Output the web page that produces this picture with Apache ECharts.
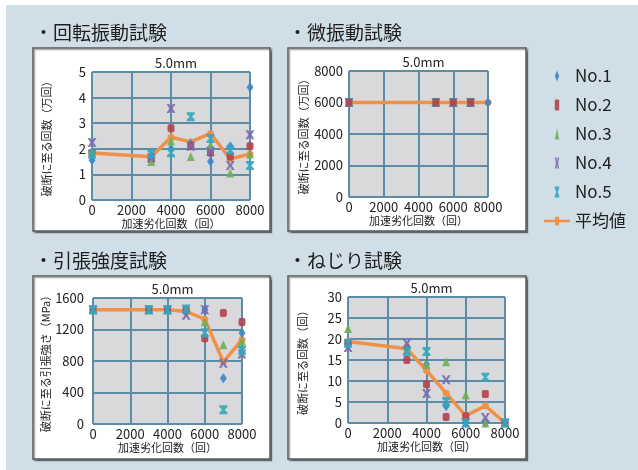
<!DOCTYPE html>
<html>
<head>
<meta charset="utf-8">
<script src="https://cdn.jsdelivr.net/npm/echarts@6/dist/echarts.min.js"></script>
<style>
  html, body { margin: 0; padding: 0; background: #ffffff; }
  #chart { width: 638px; height: 470px; }
</style>
</head>
<body>
<div id="chart"></div>
<script>
// 加速劣化回数（回）
const cycles = [0, 3000, 4000, 5000, 6000, 7000, 8000];
const cyclesMicro = [0, 5000, 6000, 7000, 8000];

// 回転振動試験：破断に至る回数（万回）
const rotNo1 = [1.55, 1.7, 2.0, 2.2, 1.5, 2.1, 4.4];
const rotNo2 = [1.85, 1.6, 2.8, 2.1, 1.85, 1.7, 2.1];
const rotNo3 = [1.9, 1.5, 2.3, 1.7, 2.15, 1.05, 1.8];
const rotNo4 = [2.25, 1.65, 3.57, 2.1, 1.9, 1.35, 2.55];
const rotNo5 = [1.8, 1.8, 1.85, 3.25, 2.4, 1.95, 1.35];
const rotAvg = [1.84, 1.69, 2.45, 2.27, 2.6, 1.6, 1.8];

// 微振動試験：破断に至る回数（万回）
const micNo1 = [6000, 6000, 6000, 6000, 6000];
const micNo2 = [6000, 6000, 6000, 6000, null];
const micNo3 = [6000, 6000, 6000, 6000, null];
const micNo4 = [6000, 6000, 6000, 6000, null];
const micNo5 = [6000, 6000, 6000, 6000, null];
const micAvg = [6000, 6000, 6000, 6000, 6000];

// 引張強度試験：破断に至る引張強さ（MPa）
const tenNo1 = [1450, 1450, 1450, 1440, 1450, 580, 1155];
const tenNo2 = [1450, 1450, 1450, 1450, 1090, 1410, 1295];
const tenNo3 = [1450, 1450, 1450, 1450, 1300, 1005, 1050];
const tenNo4 = [1450, 1450, 1450, 1380, 1450, 770, 890];
const tenNo5 = [1450, 1450, 1450, 1460, 1160, 180, 935];
const tenAvg = [1450, 1450, 1450, 1430, 1330, 790, 1070];

// ねじり試験：破断に至る回数（回）
const torNo1 = [18.7, 18, 14, 4, 0, 0, 0];
const torNo2 = [19, 15, 9.2, 1.4, 1.6, 6.9, 0];
const torNo3 = [22.5, 17.5, 14, 14.6, 6.7, 0, 0];
const torNo4 = [18, 19, 7, 10.3, 0, 1.3, 0];
const torNo5 = [19, 17, 17, 5.1, 0, 10.9, 0];
const torAvg = [19.4, 17.7, 12.5, 7.1, 1.7, 4.1, 0];

const seriesNames = ['No.1', 'No.2', 'No.3', 'No.4', 'No.5'];
const avgName = '平均値';

const colors = ['#3a86c8', '#b2434f', '#6fae57', '#7a68b0', '#33a6bf'];
const avgColor = '#f0914a';
const gridLine = '#5b8ea6';

const symbols = [
  'path://M5,0 L10,6 L5,12 L0,6Z',
  'roundRect',
  'triangle',
  'path://M0,0 L3,0 L5,3.5 L7,0 L10,0 L6.8,5 L10,10 L7,10 L5,6.5 L3,10 L0,10 L3.2,5Z',
  'path://M0,0 L10,0 L10,2 L6.5,5 L10,8 L10,10 L0,10 L0,8 L3.5,5 L0,2Z'
];
const symbolSizes = [[7, 10], [7, 8], [8, 9], [9, 9], [8, 9]];

const legendIcons = [
  'path://M2,0 L4,5 L2,10 L0,5Z',
  'path://M1,0 L3,0 Q4,0 4,1 L4,9 Q4,10 3,10 L1,10 Q0,10 0,9 L0,1 Q0,0 1,0Z',
  'path://M2,0 L4,10 L0,10Z',
  'path://M0,0 L1.5,0 L2,4 L2.5,0 L4,0 L3,5 L4,10 L2.5,10 L2,6 L1.5,10 L0,10 L1,5Z',
  'path://M0,0 L4,0 L4,1.5 L2.7,5 L4,8.5 L4,10 L0,10 L0,8.5 L1.3,5 L0,1.5Z'
];
const avgIcon = 'path://M0,4 L11,4 L11,1 L15,1 L15,4 L26,4 L26,6.5 L15,6.5 L15,9.5 L11,9.5 L11,6.5 L0,6.5Z';

const panels = [
  { xs: cycles, rows: [rotNo1, rotNo2, rotNo3, rotNo4, rotNo5], avg: rotAvg,
    grid: { left: 92, top: 72, width: 158, height: 128 },
    y: { max: 5, interval: 1 }, yName: '破断に至る回数（万回）', labelMargin: 6 },
  { xs: cyclesMicro, rows: [micNo1, micNo2, micNo3, micNo4, micNo5], avg: micAvg,
    grid: { left: 349, top: 71, width: 139, height: 126 },
    y: { max: 8000, interval: 2000 }, yName: '破断に至る回数（万回）', labelMargin: 6 },
  { xs: cycles, rows: [tenNo1, tenNo2, tenNo3, tenNo4, tenNo5], avg: tenAvg,
    grid: { left: 93, top: 298, width: 149, height: 126 },
    y: { max: 1600, interval: 400 }, yName: '破断に至る引張強さ（MPa）', labelMargin: 9 },
  { xs: cycles, rows: [torNo1, torNo2, torNo3, torNo4, torNo5], avg: torAvg,
    grid: { left: 348, top: 297, width: 157, height: 126 },
    y: { max: 30, interval: 5 }, yName: '破断に至る回数（回）', labelMargin: 6 }
];

const sectionTitles = [
  { text: '・回転振動試験', x: 34, y: 33 },
  { text: '・微振動試験', x: 288, y: 33 },
  { text: '・引張強度試験', x: 34, y: 261 },
  { text: '・ねじり試験', x: 288, y: 261 }
];
const panelBoxes = [
  [33, 48, 237, 183], [288, 48, 238, 183],
  [33, 276, 237, 183], [288, 276, 238, 183]
];

const font = '"Noto Sans CJK JP", "Noto Sans", sans-serif';
const plain = v => String(v);

const grids = [], xAxes = [], yAxes = [], titles = [], series = [];

panels.forEach((p, i) => {
  grids.push(Object.assign({
    show: true, backgroundColor: '#d9d9db', borderColor: '#f1b58c', borderWidth: 1
  }, p.grid));

  titles.push({
    text: '5.0mm',
    left: p.grid.left + p.grid.width / 2,
    top: p.grid.top - 20,
    textAlign: 'center',
    textStyle: { fontFamily: font, fontSize: 13, fontWeight: 'normal', color: '#222' }
  });

  xAxes.push({
    type: 'value', gridIndex: i, min: 0, max: 8000, interval: 2000,
    name: '加速劣化回数（回）', nameLocation: 'middle', nameGap: 18,
    nameTextStyle: { fontFamily: font, fontSize: 11, color: '#222' },
    axisLine: { show: false }, axisTick: { show: false },
    axisLabel: { fontFamily: font, fontSize: 13, color: '#222', margin: 4, formatter: plain },
    splitLine: { show: true, lineStyle: { color: gridLine, width: 2 } }
  });

  yAxes.push({
    type: 'value', gridIndex: i, min: 0, max: p.y.max, interval: p.y.interval,
    name: p.yName, nameLocation: 'middle', nameGap: 40,
    nameTextStyle: { fontFamily: font, fontSize: 11, color: '#222' },
    axisLine: { show: false }, axisTick: { show: false },
    axisLabel: { fontFamily: font, fontSize: 13, color: '#222', margin: p.labelMargin, formatter: plain },
    splitLine: { show: true, lineStyle: { color: gridLine, width: 2 } }
  });

  series.push({
    name: avgName, type: 'line', xAxisIndex: i, yAxisIndex: i, z: 3,
    data: p.xs.map((x, k) => [x, p.avg[k]]),
    symbol: 'circle', symbolSize: 7, showSymbol: true,
    lineStyle: { color: avgColor, width: 3.5 },
    itemStyle: { color: avgColor },
    animation: false
  });

  p.rows.forEach((row, s) => {
    series.push({
      name: seriesNames[s], type: 'scatter', xAxisIndex: i, yAxisIndex: i,
      z: (i === 1 && s === 1) ? 6 : 4,
      data: p.xs.map((x, k) => [x, row[k]]).filter(d => d[1] !== null),
      symbol: symbols[s], symbolSize: symbolSizes[s],
      itemStyle: { color: colors[s], opacity: 0.9 },
      animation: false
    });
  });
});

const graphics = [
  { type: 'rect', shape: { x: 6, y: 5, width: 632, height: 465 },
    style: { fill: '#cfdee7' }, z: -10, silent: true }
];
panelBoxes.forEach(b => {
  graphics.push({
    type: 'rect', shape: { x: b[0], y: b[1], width: b[2], height: b[3] },
    style: { fill: '#ffffff', stroke: '#5a5a5a', lineWidth: 1.5,
      shadowColor: 'rgba(0,0,0,0.35)', shadowOffsetX: 1.5, shadowOffsetY: 1.5, shadowBlur: 1 },
    z: -9, silent: true
  });
});
sectionTitles.forEach(t => {
  graphics.push({
    type: 'text', x: t.x, y: t.y, z: 5,
    style: { text: t.text, fontFamily: font, fontSize: 19, fill: '#1e1e1e',
      textVerticalAlign: 'middle', verticalAlign: 'middle' }
  });
});

const legendData = seriesNames.map((n, s) => ({ name: n, icon: legendIcons[s] }));
legendData.push({ name: avgName, icon: avgIcon, itemStyle: { color: avgColor } });

const chart = echarts.init(document.getElementById('chart'), null, { renderer: 'canvas' });
chart.setOption({
  animation: false,
  title: titles,
  grid: grids,
  xAxis: xAxes,
  yAxis: yAxes,
  graphic: graphics,
  legend: {
    orient: 'vertical', left: 539, top: 61,
    itemWidth: 26, itemHeight: 11, itemGap: 9,
    symbolKeepAspect: true,
    textStyle: { fontFamily: font, fontSize: 17, color: '#222', lineHeight: 20 },
    data: legendData,
    selectedMode: false
  },
  series: series
});
</script>
</body>
</html>
